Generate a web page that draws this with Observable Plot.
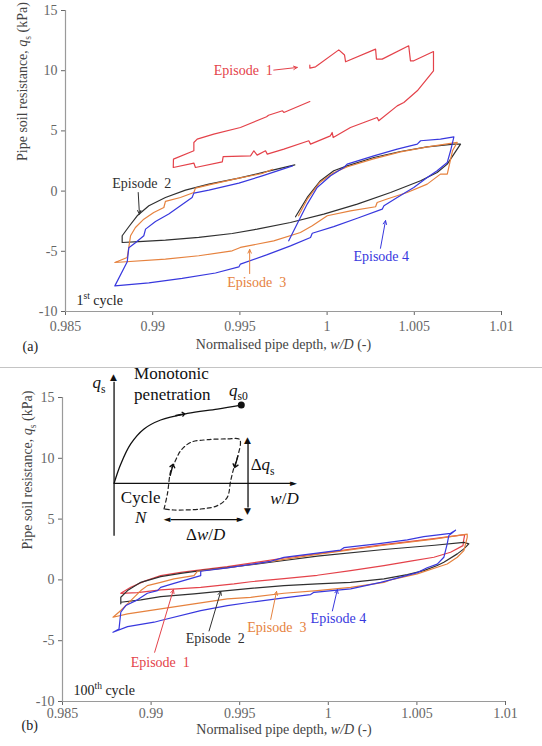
<!DOCTYPE html>
<html><head><meta charset="utf-8">
<script src="https://cdn.jsdelivr.net/npm/d3@7"></script>
<script src="https://cdn.jsdelivr.net/npm/@observablehq/plot@0.6"></script>
<style>
body{margin:0;background:#fff;}
#wrap{width:542px;height:746px;position:relative;overflow:hidden;font-family:"Liberation Serif",serif;background:#fff;}
#wrap svg text{font-family:"Liberation Serif",serif;}
#wrap svg g[font-family="DejaVu Sans"] text{font-family:"DejaVu Sans",sans-serif;}
#sep{position:absolute;left:0;top:367px;width:542px;height:1px;background:#c4c4c4;}
#pa{position:absolute;left:0;top:0;}
#pb{position:absolute;left:0;top:368px;}
</style></head><body>
<div id="wrap"><div id="pa"></div><div id="sep"></div><div id="pb"></div></div>
<script>
// ---------- axes ----------
const xTicks = [0.985, 0.99, 0.995, 1, 1.005, 1.01];
const xTickLabels = ["0.985", "0.99", "0.995", "1", "1.005", "1.01"];
const yTicks = [-10, -5, 0, 5, 10, 15];
const yTickLabels = ["-10", "-5", "0", "5", "10", "15"];
const episodes = ["Episode\u00a0\u00a01", "Episode\u00a0\u00a02", "Episode\u00a0\u00a03", "Episode\u00a04"];
const epColors = ["#e4424a", "#303030", "#e6823e", "#3838de"];

// ---------- panel (a): 1st cycle, [w/D, q_s] ----------
const a_ep1 = [[0.99901,7.44],[0.99752,6.53],[0.99744,6.67],[0.99664,6.30],[0.99653,6.17],[0.99503,5.28],[0.99350,4.73],[0.99255,4.32],[0.99236,4.04],[0.99236,3.35],[0.99119,2.66],[0.99118,1.96],[0.99236,2.33],[0.99245,1.96],[0.99399,2.43],[0.99404,2.87],[0.99561,2.93],[0.99580,3.35],[0.99599,2.99],[0.99647,3.35],[0.99657,3.07],[0.99752,3.49],[0.99895,4.18],[0.99905,3.90],[1.00019,4.59],[1.00029,4.87],[1.00035,4.45],[1.00134,5.28],[1.00287,6.11],[1.00296,5.84],[1.00402,7.08],[1.00440,7.36],[1.00517,8.33],[1.00610,9.99],[1.00610,11.59],[1.00497,10.82],[1.00478,10.82],[1.00468,12.07],[1.00316,10.96],[1.00283,10.96],[1.00278,11.79],[1.00106,10.74],[1.00100,11.30],[1.00067,11.73],[0.99934,10.32],[0.99901,10.22],[0.99901,10.47]];
const a_ep2 = [[0.99819,-2.13],[0.99886,-0.53],[0.99962,0.86],[1.00038,1.69],[1.00115,2.10],[1.00268,2.79],[1.00421,3.29],[1.00574,3.68],[1.00727,3.90],[1.00765,3.90],[1.00727,3.07],[1.00689,2.24],[1.00631,1.54],[1.00536,0.86],[1.00364,-0.12],[1.00173,-1.08],[0.99981,-1.91],[0.99790,-2.61],[0.99599,-3.16],[0.99456,-3.52],[0.99264,-3.85],[0.99073,-4.07],[0.98920,-4.19],[0.98825,-4.27],[0.98825,-3.71],[0.98863,-2.96],[0.98911,-2.05],[0.98978,-1.22],[0.99073,-0.53],[0.99188,0.08],[0.99322,0.58],[0.99494,1.08],[0.99628,1.54],[0.99815,2.18]];
const a_ep3 = [[0.99836,-2.05],[0.99888,-0.64],[0.99956,0.69],[1.00037,1.52],[1.00117,2.02],[1.00266,2.68],[1.00421,3.26],[1.00576,3.68],[1.00746,4.04],[1.00719,3.35],[1.00689,1.41],[1.00650,1.41],[1.00574,0.58],[1.00459,-0.12],[1.00344,-0.66],[1.00287,-0.95],[1.00278,-1.30],[1.00134,-1.64],[1.00001,-2.05],[0.99915,-2.88],[0.99847,-3.44],[0.99694,-4.13],[0.99503,-4.68],[0.99456,-4.96],[0.99264,-5.37],[0.99073,-5.65],[0.98783,-5.93],[0.98854,-5.51],[0.98863,-4.68],[0.98873,-3.71],[0.98901,-3.02],[0.98949,-2.33],[0.99006,-1.78],[0.99064,-1.36],[0.99073,-0.86],[0.99159,-0.53],[0.99236,-0.12],[0.99245,0.25],[0.99341,0.58],[0.99494,1.08],[0.99628,1.46],[0.99687,1.81]];
const a_ep4 = [[0.99780,-4.13],[0.99828,-2.74],[0.99886,-1.08],[0.99943,0.30],[1.00020,1.27],[1.00096,1.96],[1.00115,2.24],[1.00268,2.93],[1.00402,3.49],[1.00517,3.90],[1.00536,4.18],[1.00650,4.32],[1.00727,4.51],[1.00708,3.35],[1.00689,2.38],[1.00631,1.69],[1.00574,1.13],[1.00497,0.30],[1.00402,-0.53],[1.00326,-1.22],[1.00316,-1.50],[1.00173,-2.25],[1.00038,-2.95],[0.99915,-3.50],[0.99905,-3.85],[0.99790,-4.55],[0.99657,-5.28],[0.99503,-6.06],[0.99494,-6.30],[0.99360,-6.80],[0.99169,-7.25],[0.98978,-7.62],[0.98783,-7.87],[0.98854,-5.87],[0.98863,-4.71],[0.98901,-4.29],[0.98949,-3.71],[0.98959,-3.16],[0.99016,-2.52],[0.99092,-1.91],[0.99159,-1.22],[0.99226,-0.53],[0.99236,-0.17],[0.99322,0.08],[0.99494,0.66],[0.99628,1.27],[0.99802,2.10]];

// ---------- panel (b): 100th cycle, [w/D, q_s] ----------
const b_ep1 = [[0.98829,-1.10],[0.98885,-0.61],[0.98960,-0.12],[0.99054,0.35],[0.99167,0.62],[0.99280,0.82],[0.99430,1.09],[0.99620,1.50],[0.99750,1.80],[0.99938,2.15],[1.00088,2.45],[1.00314,2.90],[1.00596,3.40],[1.00770,3.72],[1.00765,3.35],[1.00760,2.82],[1.00690,2.27],[1.00596,1.86],[1.00464,1.55],[1.00314,1.18],[1.00126,0.76],[0.99938,0.38],[0.99750,0.10],[0.99562,-0.15],[0.99468,-0.33],[0.99280,-0.61],[0.99054,-0.82],[0.98923,-1.05],[0.98829,-1.10]];
const b_ep2 = [[0.98829,-1.97],[0.98829,-1.43],[0.98867,-0.88],[0.98942,-0.20],[0.99054,0.27],[0.99167,0.54],[0.99280,0.76],[0.99675,1.45],[0.99938,1.95],[1.00314,2.50],[1.00600,2.85],[1.00765,3.09],[1.00793,2.96],[1.00765,2.55],[1.00728,2.14],[1.00652,1.45],[1.00615,1.18],[1.00539,0.76],[1.00446,0.44],[1.00314,0.08],[1.00126,-0.20],[0.99938,-0.33],[0.99750,-0.47],[0.99562,-0.70],[0.99430,-0.88],[0.99242,-1.15],[0.99054,-1.37],[0.98942,-1.64],[0.98829,-1.84],[0.98829,-1.97]];
const b_ep3 = [[0.98785,-3.07],[0.98829,-2.52],[0.98885,-1.70],[0.98942,-0.88],[0.98979,-0.47],[0.99054,-0.20],[0.99129,0.08],[0.99242,0.35],[0.99261,0.71],[0.99430,0.99],[0.99675,1.53],[0.99938,2.10],[1.00314,2.85],[1.00596,3.35],[1.00784,3.76],[1.00784,3.50],[1.00765,2.41],[1.00728,1.86],[1.00671,1.31],[1.00615,1.04],[1.00502,0.49],[1.00351,0.00],[1.00314,-0.20],[1.00126,-0.61],[0.99938,-0.88],[0.99750,-1.10],[0.99562,-1.43],[0.99430,-1.56],[0.99242,-1.97],[0.99054,-2.38],[0.98867,-2.79],[0.98785,-3.07]];
const b_ep4 = [[0.98785,-4.31],[0.98819,-4.03],[0.98829,-2.66],[0.98857,-2.11],[0.98923,-1.64],[0.98979,-1.10],[0.99036,-0.88],[0.99054,-0.61],[0.99129,-0.28],[0.99280,0.35],[0.99280,0.71],[0.99430,0.99],[0.99675,1.53],[0.99750,1.85],[1.00069,2.45],[1.00088,2.65],[1.00276,2.96],[1.00446,3.29],[1.00539,3.56],[1.00690,3.83],[1.00718,4.09],[1.00680,3.64],[1.00671,2.96],[1.00652,1.86],[1.00615,1.30],[1.00558,1.00],[1.00502,0.60],[1.00351,0.00],[1.00295,-0.20],[1.00126,-0.74],[0.99919,-1.02],[0.99900,-1.21],[0.99750,-1.48],[0.99562,-1.84],[0.99430,-2.11],[0.99280,-2.52],[0.99054,-3.34],[0.99017,-3.48],[0.98867,-3.84],[0.98785,-4.31]];

// ---------- annotations (data coordinates) ----------
const a_labelX = [0.99350, 0.98768, 0.99427, 1.00151];
const a_labelY = [10.05, 0.66, -7.59, -5.45];
const a_arrows = [[0.99694,10.05,0.99829,10.27],[0.98917,-0.12,0.98924,-1.91],[0.99556,-6.85,0.99556,-4.85],[1.00306,-4.75,1.00335,-2.45]];
const b_labelX = [0.98885, 0.99195, 0.99543, 0.99900];
const b_labelY = [-6.77, -4.85, -3.89, -3.20];
const b_arrows = [[0.99020,-5.95,0.99126,-0.80],[0.99327,-4.20,0.99393,-0.95],[0.99675,-3.25,0.99708,-0.95],[1.00023,-2.55,1.00051,-0.80]];
const cycleNotes = [{panel: "a", text: "1{sup:st} cycle", x: 0.98563, y: -9.1}, {panel: "b", text: "100{sup:th} cycle", x: 0.98562, y: -9.1}];

// inset schematic in panel (b)
const insetMonotonic = [[0.98791,7.94],[0.98829,9.53],[0.98885,11.18],[0.98960,12.41],[0.99054,13.15],[0.99205,13.69],[0.99374,14.05],[0.99509,14.38]];
const insetCycle = [[0.99073,5.83],[0.99092,7.07],[0.99111,8.98],[0.99129,9.53],[0.99167,10.62],[0.99224,11.31],[0.99318,11.53],[0.99430,11.59],[0.99500,11.53],[0.99487,10.07],[0.99468,9.25],[0.99449,8.16],[0.99430,6.79],[0.99374,6.11],[0.99280,5.83],[0.99129,5.75],[0.99073,5.83]];
const insetChevrons = [[0.99140,13.52,0.99190,13.66],[0.99108,8.60,0.99124,9.50],[0.99490,10.20,0.99472,9.25]];
const insetLines = [[0.98791,3.64,0.98791,16.3],[0.98791,7.94,0.99790,7.94],[0.99547,5.95,0.99547,11.2],[0.99110,4.95,0.99490,4.95]];
const insetHeads = [
  {g: "\u25B2", x: 0.98791, y: 16.65, dx: 0, dy: 4},
  {g: "\u25BA", x: 0.99806, y: 7.94, dx: -4, dy: 0},
  {g: "\u25B2", x: 0.99547, y: 11.45, dx: 0, dy: 4},
  {g: "\u25BC", x: 0.99547, y: 5.65, dx: 0, dy: -4},
  {g: "\u25C4", x: 0.99092, y: 4.95, dx: 4, dy: 0},
  {g: "\u25BA", x: 0.99505, y: 4.95, dx: -4, dy: 0}
];
const insetDot = [[0.99509, 14.38]];
const insetTextsStart = [
  {t: "Monotonic", x: 0.98904, y: 16.95},
  {t: "penetration", x: 0.98904, y: 15.28},
  {t: "{i:q}{sub:s0}", x: 0.99440, y: 15.6},
  {t: "\u0394{i:q}{sub:s}", x: 0.99562, y: 9.5}
];
const insetTextsMiddle = [
  {t: "{i:q}{sub:s}", x: 0.98706, y: 16.2},
  {t: "{i:w}/{i:D}", x: 0.99753, y: 6.65},
  {t: "\u0394{i:w}/{i:D}", x: 0.99308, y: 3.7},
  {t: "Cycle", x: 0.98941, y: 6.79},
  {t: "{i:N}", x: 0.98941, y: 5.14}
];

const xLabel = "Normalised pipe depth, {i:w/D} (-)";
const yLabel = "Pipe soil resistance, {i:q}{sub:s} (kPa)";

// ---------- rich text helper ----------
function richify(root) {
  const NS = "http://www.w3.org/2000/svg";
  root.querySelectorAll("text").forEach(t => {
    const s = t.textContent;
    if (!/\{(i|sub|sup):/.test(s)) return;
    const base = parseFloat(getComputedStyle(t).fontSize) || 14;
    while (t.firstChild) t.removeChild(t.firstChild);
    const re = /\{(i|sub|sup):([^}]*)\}/g;
    let last = 0, m, shift = 0;
    const add = (txt, kind) => {
      if (!txt) return;
      const ts = document.createElementNS(NS, "tspan");
      ts.textContent = txt;
      let target = 0;
      if (kind === "sub") target = 0.28 * base;
      if (kind === "sup") target = -0.42 * base;
      const dy = target - shift;
      if (Math.abs(dy) > 1e-6) ts.setAttribute("dy", dy.toFixed(2));
      shift = target;
      if (kind === "i") ts.setAttribute("font-style", "italic");
      if (kind === "sub" || kind === "sup") ts.setAttribute("font-size", (0.68 * base).toFixed(1));
      t.appendChild(ts);
    };
    while ((m = re.exec(s))) {
      add(s.slice(last, m.index), "n");
      add(m[2], m[1]);
      last = re.lastIndex;
    }
    add(s.slice(last), "n");
  });
}

function fmt(ticks, labels) {
  return d => { const i = ticks.findIndex(v => Math.abs(v - d) < 1e-9); return i >= 0 ? labels[i] : ""; };
}

const SERIF = "Liberation Serif";

function makePanel(o) {
  const series = o.series;
  const labels = episodes.map((t, i) => ({text: t, x: o.labelX[i], y: o.labelY[i], color: epColors[i]}));
  const arrows = o.arrows.map((a, i) => ({x1: a[0], y1: a[1], x2: a[2], y2: a[3], color: epColors[i]}));
  const marks = [
    Plot.ruleX([xTicks[0]], {stroke: "#9a9a9a", strokeWidth: 1.2}),
    Plot.ruleY([yTicks[0]], {stroke: "#9a9a9a", strokeWidth: 1.2}),
  ];
  series.forEach((s, i) => marks.push(Plot.line(s, {x: d => d[0], y: d => d[1], stroke: epColors[i], strokeWidth: 1.2})));
  marks.push(
    Plot.arrow(arrows, {x1: "x1", y1: "y1", x2: "x2", y2: "y2", stroke: "color", strokeWidth: 1, headLength: 6, headAngle: 50}),
    Plot.text(labels, {x: "x", y: "y", text: "text", fill: "color", textAnchor: "start", fontSize: 14, fontFamily: SERIF}),
    Plot.text(cycleNotes.filter(d => d.panel === o.name), {x: "x", y: "y", text: "text", fill: "#222", textAnchor: "start", fontSize: 14, fontFamily: SERIF}),
    Plot.text([xLabel], {frameAnchor: "bottom", dy: o.xLabelDy, fill: "#444", fontSize: 14, fontFamily: SERIF}),
    Plot.text([`(${o.name})`], {frameAnchor: "bottom-left", dx: o.tagDx, dy: o.tagDy, textAnchor: "start", fill: "#222", fontSize: 14, fontFamily: SERIF}),
    Plot.text([yLabel], {frameAnchor: "left", dx: o.yLabelDx, rotate: -90, fill: "#444", fontSize: 14, fontFamily: SERIF})
  );
  if (o.inset) {
    marks.push(
      Plot.line(insetMonotonic, {x: d => d[0], y: d => d[1], stroke: "#111", strokeWidth: 1.3, curve: "catmull-rom"}),
      Plot.line(insetCycle, {x: d => d[0], y: d => d[1], stroke: "#222", strokeWidth: 1.2, strokeDasharray: "4,3", curve: "catmull-rom"}),
      Plot.link(insetLines, {x1: d => d[0], y1: d => d[1], x2: d => d[2], y2: d => d[3], stroke: "#111", strokeWidth: 1.3}),
      Plot.arrow(insetChevrons, {x1: d => d[0], y1: d => d[1], x2: d => d[2], y2: d => d[3], stroke: "#111", strokeWidth: 1.4, headLength: 12, headAngle: 80}),
      Plot.text(insetHeads, {x: "x", y: "y", text: "g", dx: "dx", dy: "dy", fill: "#111", fontSize: 9, fontFamily: "DejaVu Sans"}),
      Plot.dot(insetDot, {x: d => d[0], y: d => d[1], r: 3.5, fill: "#111"}),
      Plot.text(insetTextsStart, {x: "x", y: "y", text: "t", textAnchor: "start", fill: "#111", fontSize: 17, fontFamily: SERIF}),
      Plot.text(insetTextsMiddle, {x: "x", y: "y", text: "t", textAnchor: "middle", fill: "#111", fontSize: 17, fontFamily: SERIF})
    );
  }
  return Plot.plot({
    width: 542, height: o.height,
    marginLeft: o.ml, marginRight: o.mr, marginTop: o.mt, marginBottom: o.mb,
    style: {fontFamily: "Liberation Serif, serif", fontSize: "14px", color: "#666", background: "transparent", overflow: "visible"},
    color: {type: "identity"},
    x: {domain: [0.985, 1.01], ticks: xTicks, tickFormat: fmt(xTicks, xTickLabels), tickSize: 4, tickPadding: o.xPad, label: null},
    y: {domain: [-10, 15], ticks: yTicks, tickFormat: fmt(yTicks, yTickLabels), tickSize: 4, tickPadding: 4, label: null},
    marks
  });
}

const svgA = makePanel({name: "a", series: [a_ep1, a_ep2, a_ep3, a_ep4], labelX: a_labelX, labelY: a_labelY, arrows: a_arrows,
  height: 366, ml: 65, mr: 41, mt: 10, mb: 55, xPad: 6, xLabelDy: 37, tagDx: -43, tagDy: 39, yLabelDx: -43, inset: false});
const svgB = makePanel({name: "b", series: [b_ep1, b_ep2, b_ep3, b_ep4], labelX: b_labelX, labelY: b_labelY, arrows: b_arrows,
  height: 378, ml: 62, mr: 37, mt: 29, mb: 45, xPad: 3, xLabelDy: 32, tagDx: -41, tagDy: 28, yLabelDx: -35, inset: true});
document.getElementById("pa").appendChild(svgA);
document.getElementById("pb").appendChild(svgB);
richify(svgA);
richify(svgB);
</script>
</body></html>
